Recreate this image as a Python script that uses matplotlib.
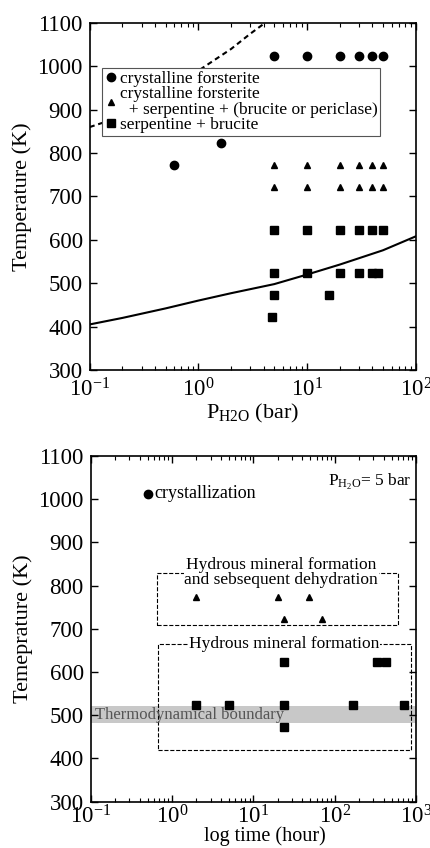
import matplotlib
matplotlib.use('Agg')
import matplotlib.pyplot as plt
from matplotlib.patches import Rectangle

plt.rcParams['font.family'] = ['Liberation Serif', 'DejaVu Serif']
plt.rcParams['mathtext.fontset'] = 'custom'
plt.rcParams['mathtext.rm'] = 'Liberation Serif'
plt.rcParams['mathtext.it'] = 'Liberation Serif:italic'

# ---- top panel data (P_H2O in bar, T in K)
forst_p = [0.6, 1.6, 5, 10, 20, 30, 40, 50]
forst_t = [773, 823, 1023, 1023, 1023, 1023, 1023, 1023]

mix_p = [5, 10, 20, 30, 40, 50, 5, 10, 20, 30, 40, 50]
mix_t = [773, 773, 773, 773, 773, 773, 723, 723, 723, 723, 723, 723]

serp_p = [5, 10, 20, 30, 40, 50, 5, 10, 20, 30, 40, 45, 5, 16, 4.8]
serp_t = [623, 623, 623, 623, 623, 623, 523, 523, 523, 523, 523, 523, 473, 473, 423]

# solid boundary (serpentine + brucite stability)
bound_p = [0.1, 0.2, 0.5, 1, 2, 5, 10, 20, 50, 100]
bound_t = [405, 420, 442, 460, 477, 498, 520, 543, 576, 608]

# dashed boundary
dash_p = [0.1, 0.2, 0.5, 1, 2, 3, 4.1]
dash_t = [860, 885, 935, 990, 1040, 1075, 1100]

# ---- bottom panel data (time in hour, T in K) at P_H2O = 5 bar
cryst_h = [0.5]
cryst_t = [1013]

dehyd_h = [2, 20, 48, 24, 70]
dehyd_t = [773, 773, 773, 723, 723]

hyd_h = [2, 5, 24, 168, 720, 24, 336, 432, 24]
hyd_t = [523, 523, 523, 523, 523, 623, 623, 623, 473]

band_t = [481, 521]

fig = plt.figure(figsize=(4.31, 8.48), dpi=100)
ax1 = fig.add_axes([0.208, 0.5637, 0.7565, 0.4092])
ax2 = fig.add_axes([0.2104, 0.0546, 0.7548, 0.4077])

for ax in (ax1, ax2):
    ax.set_xscale('log')
    ax.set_ylim(300, 1100)
    ax.set_yticks(range(300, 1101, 100))
    ax.tick_params(which='both', direction='in', top=True, right=True, labelsize=16.5)
    ax.tick_params(which='major', length=5, width=1)
    ax.tick_params(which='minor', length=3, width=0.8)
    ax.tick_params(axis='y', pad=5)
    for s in ax.spines.values():
        s.set_linewidth(1.2)
ax1.tick_params(axis='x', pad=6)
ax2.tick_params(axis='x', pad=2.5)

# top
ax1.set_xlim(0.1, 100)
ax1.plot(bound_p, bound_t, '-', color='black', lw=1.5)
ax1.plot(dash_p, dash_t, color='black', lw=1.5, dashes=(2.5, 1.8))
ax1.plot(forst_p, forst_t, 'o', color='black', ms=6, ls='none', label='crystalline forsterite')
ax1.plot(mix_p, mix_t, '^', color='black', ms=5, ls='none',
         label='crystalline forsterite\n  + serpentine + (brucite or periclase)')
ax1.plot(serp_p, serp_t, 's', color='black', ms=6, ls='none', label='serpentine + brucite')
leg = ax1.legend(loc='upper left', bbox_to_anchor=(0.037, 0.869), fontsize=12.5,
                 handletextpad=0.1, handlelength=0.8, labelspacing=-0.05,
                 borderpad=0.15, borderaxespad=0, fancybox=False, framealpha=1)
for t in leg.get_texts():
    t.set_linespacing(0.95)
leg.get_frame().set_edgecolor('#555555')
leg.get_frame().set_linewidth(0.8)
ax1.set_ylabel('Temperature (K)', fontsize=16)
ax1.set_xlabel(r'P$_{\mathrm{H2O}}$ (bar)', fontsize=16, labelpad=0)

# bottom
ax2.set_xlim(0.1, 1000)
ax2.axhspan(band_t[0], band_t[1], color='#c8c8c8', lw=0, zorder=0)
ax2.text(0.113, 501, 'Thermodynamical boundary', fontsize=12, color='#555555',
         va='center', ha='left')
ax2.add_patch(Rectangle((0.65, 710), 608 - 0.65, 830 - 710, fill=False, ls='--',
                        lw=0.8, ec='black', zorder=1))
ax2.add_patch(Rectangle((0.68, 419), 870 - 0.68, 665 - 419, fill=False, ls='--',
                        lw=0.8, ec='black', zorder=1))
ax2.text(22, 830, 'Hydrous mineral formation\nand sebsequent dehydration', fontsize=12.5,
         ha='center', va='center', linespacing=0.95,
         bbox=dict(fc='white', ec='none', pad=0.5), zorder=2)
ax2.text(24, 665, 'Hydrous mineral formation', fontsize=12.5, ha='center', va='center',
         bbox=dict(fc='white', ec='none', pad=0.5), zorder=2)
ax2.plot(cryst_h, cryst_t, 'o', color='black', ms=6, ls='none', zorder=3)
ax2.text(0.6, 1013, 'crystallization', fontsize=13, va='center', ha='left')
ax2.plot(dehyd_h, dehyd_t, '^', color='black', ms=5, ls='none', zorder=3)
ax2.plot(hyd_h, hyd_t, 's', color='black', ms=6, ls='none', zorder=3)
ax2.text(0.985, 0.955, r'P$_{\mathrm{H_2O}}$= 5 bar', transform=ax2.transAxes,
         fontsize=12.5, ha='right', va='top')
ax2.set_ylabel('Temeprature (K)', fontsize=16)
ax2.set_xlabel('log time (hour)', fontsize=14.5)
ax2.xaxis.set_label_coords(0.535, -0.072)

fig.savefig('out.png', dpi=100)
